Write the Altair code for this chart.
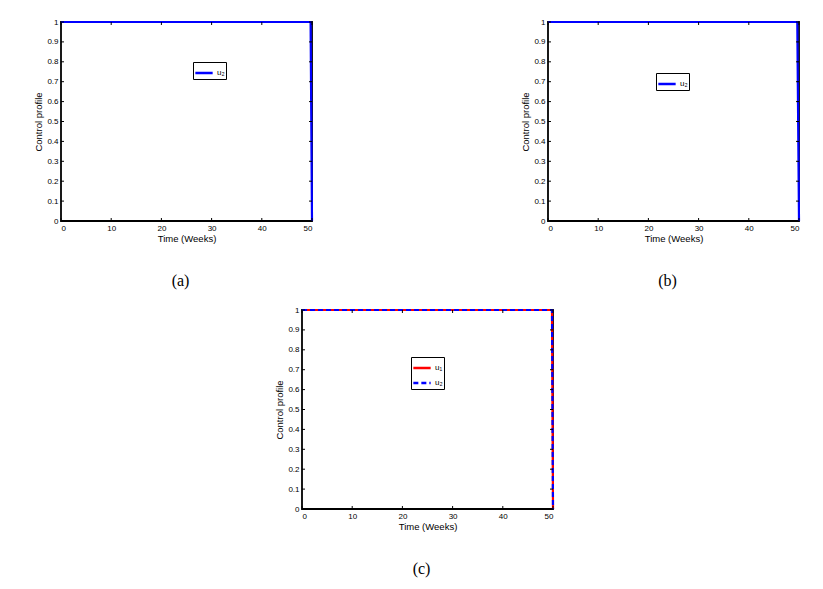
import altair as alt
import pandas as pd

# ---- data ----
time_a = [0, 49.72, 50]
u2_a = [1, 1, 0]

time_b = [0, 49.66, 50]
u2_b = [1, 1, 0]

time_c = [0, 49.8, 50]
u1_c = [1, 1, 0]
u2_c = [1, 1, 0]

x_ticks = [0, 10, 20, 30, 40, 50]
y_ticks = [0, 0.1, 0.2, 0.3, 0.4, 0.5, 0.6, 0.7, 0.8, 0.9, 1]

series_names = ["u\u2081", "u\u2082"]
series_colors = ["#ff0000", "#0000ff"]

W, H = 251, 199
TK = 3  # inward tick length

xt = pd.DataFrame({"t": x_ticks})
yt = pd.DataFrame({"u": y_ticks})


def frame(t, u, name):
    return pd.DataFrame({"t": t, "u": u, "s": [name] * len(t)})


def panel(df, names, dashes, caption, lx, ly, cap_dx):
    colors = [series_colors[series_names.index(n)] for n in names]
    leg = alt.Legend(
        title=None,
        orient="none",
        legendX=lx,
        legendY=ly,
        strokeColor="black",
        fillColor="white",
        padding=1,
        symbolType="stroke",
        symbolStrokeWidth=2.5,
        symbolSize=300,
        labelFontSize=8,
        labelFont="Liberation Sans",
        labelColor="black",
        rowPadding=0,
        labelOffset=3,
    )
    xs = alt.Scale(domain=[0, 50], nice=False, zero=False)
    ys = alt.Scale(domain=[0, 1], nice=False)
    xax = alt.Axis(values=x_ticks, title="Time (Weeks)")
    yax = alt.Axis(values=y_ticks, title="Control profile", labelExpr="'' + datum.value")
    X = alt.X("t:Q", scale=xs, axis=xax, title="Time (Weeks)")
    Y = alt.Y("u:Q", scale=ys, axis=yax, title="Control profile")
    line = (
        alt.Chart(df)
        .mark_line(strokeWidth=2.2, clip=False)
        .encode(
            x=X,
            y=Y,
            color=alt.Color("s:N", scale=alt.Scale(domain=names, range=colors), legend=leg),
            strokeDash=alt.StrokeDash("s:N", scale=alt.Scale(domain=names, range=dashes), legend=leg),
        )
    )
    tb = alt.Chart(xt).mark_rule(color="black", strokeWidth=1).encode(
        x=X, y=alt.value(H), y2=alt.value(H - TK))
    tt = alt.Chart(xt).mark_rule(color="black", strokeWidth=1).encode(
        x=X, y=alt.value(0), y2=alt.value(TK))
    tl = alt.Chart(yt).mark_rule(color="black", strokeWidth=1).encode(
        y=Y, x=alt.value(0), x2=alt.value(TK))
    tr = alt.Chart(yt).mark_rule(color="black", strokeWidth=1).encode(
        y=Y, x=alt.value(W), x2=alt.value(W - TK))
    return alt.layer(line, tb, tt, tl, tr).properties(
        width=W,
        height=H,
        title=alt.TitleParams(
            caption,
            orient="bottom",
            font="Liberation Serif",
            fontSize=16,
            fontWeight="normal",
            color="black",
            offset=30,
            dx=cap_dx,
        ),
    )


df_a = frame(time_a, u2_a, series_names[1])
df_b = frame(time_b, u2_b, series_names[1])
df_c = pd.concat([frame(time_c, u1_c, series_names[0]), frame(time_c, u2_c, series_names[1])],
                 ignore_index=True)

pa = panel(df_a, [series_names[1]], [[1, 0]], "(a)", 132, 40, -6)
pb = panel(df_b, [series_names[1]], [[1, 0]], "(b)", 108, 51, -6)
pc = panel(df_c, series_names, [[1, 0], [5, 3]], "(c)", 109, 47, -6)

spacer = (
    alt.Chart(pd.DataFrame({"k": [0]}))
    .mark_point(opacity=0, size=1)
    .encode(x=alt.value(0), y=alt.value(0))
    .properties(width=231, height=H, view=alt.ViewBackground(stroke=None))
)

indep = dict(color="independent", strokeDash="independent")

top = alt.hconcat(pa, pb, spacing=236, bounds="flush").resolve_scale(**indep).resolve_legend(**indep)
bottom = alt.hconcat(spacer, pc, spacing=10, bounds="flush").resolve_scale(**indep).resolve_legend(**indep)

chart = (
    alt.vconcat(top, bottom, spacing=14)
    .resolve_scale(**indep)
    .resolve_legend(**indep)
    .properties(padding={"left": 24, "top": 8, "right": 5, "bottom": 5})
    .configure_view(stroke="black", strokeWidth=1.8)
    .configure_axis(
        domain=False,
        ticks=False,
        grid=False,
        labelFont="Liberation Sans",
        labelFontSize=8,
        labelColor="black",
        labelPadding=3,
        titleFont="Liberation Sans",
        titleFontSize=9.5,
        titleFontWeight="normal",
        titleColor="black",
    )
    .configure_axisY(titlePadding=3)
    .configure_axisX(titlePadding=1)
    .configure_title(anchor="middle")
)

chart.save("out.html", embed_options={"renderer": "svg", "actions": False})
